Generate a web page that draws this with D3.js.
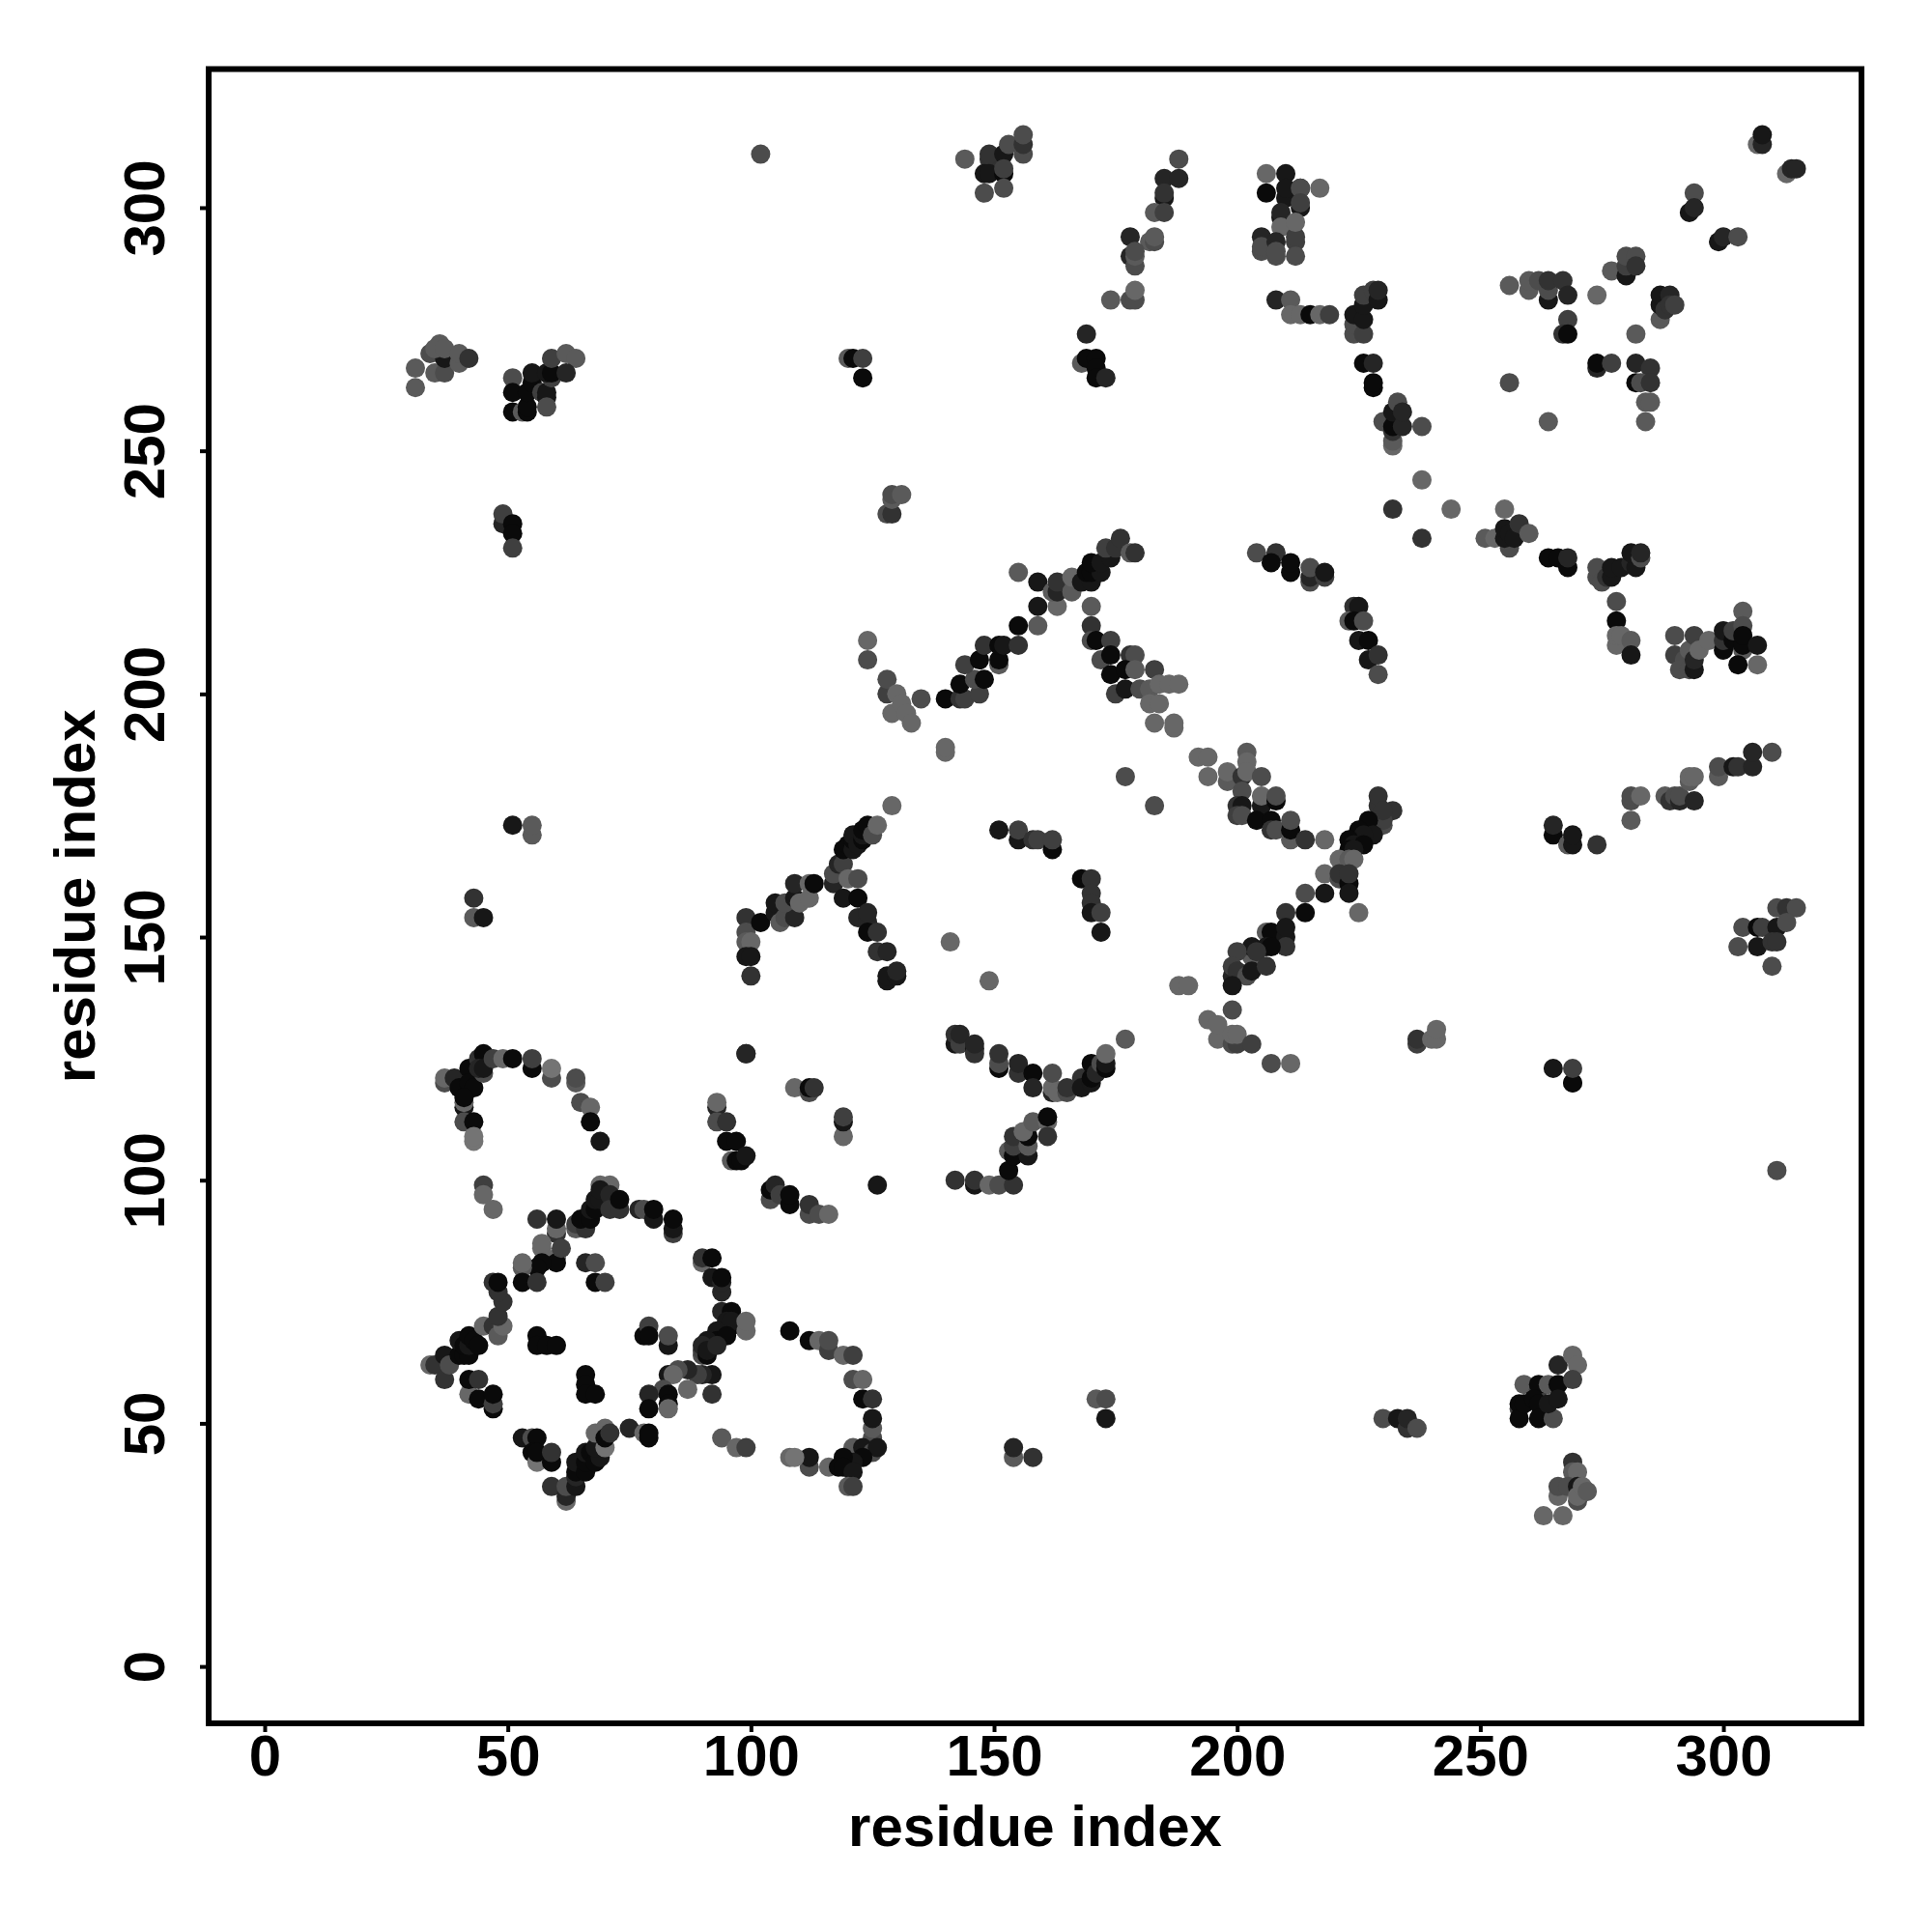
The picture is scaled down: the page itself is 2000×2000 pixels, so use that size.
<!DOCTYPE html>
<html>
<head>
<meta charset="utf-8">
<script src="https://cdn.jsdelivr.net/npm/d3@7"></script>
<style>
html,body{margin:0;padding:0;background:#fff}
svg{display:block}
text{font-family:"Liberation Sans",Arial,sans-serif;font-weight:bold;fill:#000}
</style>
</head>
<body>
<script>
// each contact: [residue index x, residue index y, shade level 0 (black) .. 8 (lightest)]
const arcUpperLeft = [[37,120,5],[37,121,7],[39,121,2],[40,119,0],[42,123,0],[42,120,0],[43,119,0],[41,115,1],[41,116,7],[41,117,0],[44,125,3],[45,126,0],[45,122,5],[44,123,2],[45,123,1],[47,125,4],[49,125,7],[51,125,0],[55,123,0],[55,125,4],[59,121,5],[59,123,8],[64,120,6],[64,121,5],[65,116,5],[67,115,7],[67,112,0],[69,108,1],[41,112,5],[43,112,0],[43,108,8],[43,109,8],[45,99,4],[45,97,7],[47,94,7]];
const ringTop = [[56,92,3],[60,89,3],[60,90,7],[60,92,1],[57,86,7],[57,87,7],[60,84,7],[60,83,0],[61,86,4],[57,83,0],[56,82,0],[53,82,6],[53,83,7],[53,79,0],[56,79,3],[64,90,6],[64,91,4],[66,90,3],[65,92,0],[67,92,0],[67,94,1],[68,94,0],[68,96,1],[69,96,1],[69,99,7],[71,99,7],[69,98,1],[71,97,2],[71,94,3],[73,94,3],[73,96,0],[77,94,2],[78,94,5],[80,92,1],[80,94,0],[84,89,4],[84,90,1],[84,92,0]];
const ringRight = [[90,83,7],[90,84,3],[92,84,0],[92,80,1],[94,77,2],[94,79,2],[94,80,0],[94,73,2],[96,73,0],[95,71,1],[96,70,0],[96,71,1],[99,69,7],[99,71,7],[93,69,1],[93,67,0],[91,67,1],[95,68,0],[90,64,5],[90,65,4],[90,66,2],[91,64,0],[91,65,1],[93,66,2]];
const ringLowerRight = [[92,60,1],[90,60,2],[89,60,4],[87,61,2],[85,61,5],[83,60,1],[84,60,7],[87,57,7],[82,57,5],[83,56,0],[79,56,2],[92,56,3],[79,53,0],[83,54,0],[83,53,7]];
const ringBottom = [[53,47,1],[55,47,5],[56,47,0],[55,44,0],[56,42,8],[56,44,0],[59,42,0],[59,44,3],[59,37,3],[62,34,7],[62,35,2],[62,37,5],[64,37,1],[64,39,2],[64,40,0],[64,42,1],[66,40,0],[66,42,0],[66,44,1],[67,44,0],[68,42,0],[69,43,1],[68,45,1],[70,45,8],[68,48,7],[70,49,7],[70,47,0],[71,48,3],[75,49,2],[78,48,7],[79,47,0],[79,48,0]];
const ringLeft = [[34,62,7],[35,62,3],[37,59,3],[37,64,1],[38,62,5],[40,64,0],[41,64,0],[42,64,0],[40,67,1],[41,66,0],[42,66,1],[42,68,0],[43,67,0],[44,66,0],[45,70,7],[47,70,3],[48,68,6],[49,70,7],[48,72,3],[49,75,3],[48,77,3],[47,79,3],[48,79,0],[42,56,7],[42,59,0],[44,59,3],[44,55,0],[47,53,0],[47,54,4],[47,56,0]];
const ringInside = [[56,68,0],[56,66,0],[58,66,0],[60,66,0],[66,60,0],[66,58,0],[66,56,0],[68,56,0],[78,68,0],[79,70,4],[79,68,0],[83,66,1],[83,68,5],[66,83,2],[68,83,5],[68,79,0],[70,79,4]];
const arcLowerRight = [[108,69,0],[112,67,0],[114,67,7],[116,65,4],[116,67,5],[119,64,7],[121,64,4],[121,59,5],[123,59,7],[123,55,0],[125,55,3],[125,47,5],[125,49,6],[125,51,1],[121,45,6],[123,45,1],[125,44,5],[126,45,1],[123,43,0],[121,42,1],[119,43,0],[116,41,7],[118,41,0],[119,41,0],[121,40,1],[120,37,6],[121,37,4],[112,41,5],[112,43,1],[108,43,7],[109,43,8],[94,47,6],[97,45,7],[99,45,4]];
const arcMiddle = [[99,126,2],[109,119,7],[112,118,5],[112,119,0],[113,119,3],[119,109,7],[119,112,1],[119,113,4],[93,115,2],[93,116,7],[93,112,5],[95,112,3],[95,108,0],[97,108,0],[96,104,6],[97,104,0],[98,104,0],[99,105,1],[104,96,5],[104,98,0],[105,99,2],[106,97,4],[108,95,0],[108,97,0],[112,93,5],[112,95,3],[114,93,5],[116,93,7],[126,99,1]];
const branchLeft150 = [[99,154,3],[99,151,5],[99,149,6],[100,149,7],[99,146,1],[100,146,1],[100,142,3],[102,153,0],[105,155,1],[105,157,1],[106,153,6],[107,154,5],[109,154,2],[107,157,5],[109,158,1],[110,157,7],[112,158,7],[109,161,2],[112,161,7],[113,161,0]];
const branchRight150 = [[117,161,2],[117,163,5],[118,165,2],[119,165,4],[119,168,0],[120,169,0],[121,168,1],[121,170,0],[121,171,1],[122,169,1],[123,170,0],[123,171,1],[123,172,0],[124,173,0],[125,171,5],[126,173,7],[119,158,1],[120,162,7],[122,158,0],[122,162,5],[122,154,2],[124,153,2],[124,155,2],[124,151,0],[126,151,3],[126,147,3],[128,147,2],[128,141,1],[128,142,1],[130,142,1],[130,143,2]];
const arc170 = [[129,177,7],[151,172,1],[155,170,1],[155,172,4],[158,170,3],[159,170,4],[162,168,0],[162,170,4],[168,162,0],[170,162,3],[170,159,3],[170,157,3],[170,155,1],[172,155,4],[172,151,1],[141,149,7],[149,141,7],[177,183,5],[183,177,5],[188,140,7],[190,140,7],[99,126,2]];
const yShape = [[142,100,3],[146,99,1],[146,100,3],[149,99,7],[151,99,5],[154,99,3],[153,102,0],[153,106,6],[154,105,0],[157,105,1],[154,107,4],[154,109,3],[157,107,6],[157,109,0],[156,110,7],[158,112,6],[161,112,7],[161,113,0],[161,109,3],[142,128,1],[142,130,3],[143,128,4],[143,130,2],[146,127,1],[146,126,3],[146,128,2],[151,123,0],[151,124,5],[151,126,3],[155,122,3],[155,124,2],[158,122,0],[158,119,2],[162,118,2],[162,119,7],[162,122,5],[163,118,7],[165,118,5],[165,119,3],[168,121,3],[168,119,1],[170,120,1],[170,121,0],[170,124,0],[171,122,2],[172,124,5],[173,123,0],[173,124,1],[173,126,7],[177,129,6]];
const arm200 = [[124,211,7],[124,207,5],[128,200,4],[128,203,5],[129,196,7],[130,200,7],[131,198,7],[132,196,7],[133,194,7],[135,199,5],[140,199,0],[140,188,7],[140,189,7],[143,199,3],[144,199,4],[147,200,4],[143,202,0],[146,203,5],[148,203,0],[144,206,4],[147,207,0],[151,206,6],[151,207,0],[148,210,3],[151,210,0],[152,210,1],[155,210,3],[155,214,0],[159,214,6],[159,218,1],[163,218,7],[159,223,1],[162,221,6],[163,221,2],[163,223,3],[166,221,6],[166,224,7],[155,225,6],[168,223,1],[170,223,1],[169,225,0],[170,225,0],[172,225,1],[170,227,0],[172,227,1],[174,228,1],[173,230,4],[175,230,3],[176,232,3],[178,229,6],[179,229,3]];
const arm205 = [[170,218,6],[170,214,3],[170,211,5],[171,211,0],[172,207,5],[174,211,4],[174,208,0],[174,204,0],[175,200,4],[177,201,1],[178,208,3],[179,208,5],[177,205,0],[179,205,6],[180,201,5],[182,201,6],[183,205,4],[182,198,7],[184,198,7],[184,202,7],[186,202,7],[188,202,7],[183,194,7],[187,193,7],[187,194,7]];
const arm180 = [[192,187,7],[194,187,7],[194,183,7],[198,182,6],[198,184,7],[202,188,6],[202,186,7],[201,183,3],[202,184,7],[205,183,5],[201,180,5],[200,177,3],[201,177,1],[200,175,4],[201,175,5],[205,177,1],[205,179,7],[208,178,0],[208,179,5],[204,174,0],[207,174,0],[207,172,3],[208,172,5],[211,170,6],[211,172,0],[211,174,5],[214,170,3],[218,170,7]];
const crossRight = [[229,177,3],[229,179,3],[232,176,3],[230,173,5],[230,174,4],[230,176,3],[227,174,0],[228,171,1],[225,172,0],[226,171,1],[223,170,0],[224,169,1],[226,169,0],[223,168,0],[224,168,1],[221,166,7],[223,166,6],[224,166,7],[218,163,7],[221,162,5],[221,163,3],[223,161,0],[223,163,3],[214,159,5],[218,159,1],[223,159,1],[225,155,7],[210,155,3],[214,155,0],[206,151,6],[207,151,0],[210,150,1],[210,152,1],[210,148,3],[206,148,1],[207,148,0],[203,146,6],[203,148,1],[204,147,3],[200,147,4],[199,142,2],[199,144,4],[200,143,3],[202,142,5],[203,143,1],[206,144,3],[199,140,1]];
const patch130 = [[199,135,5],[194,133,7],[196,129,7],[196,132,7],[199,128,5],[200,128,4],[199,130,7],[200,130,7],[203,128,4],[207,124,5],[211,124,7],[237,128,4],[237,129,3],[240,129,7],[241,129,7],[241,131,7],[265,123,1],[269,120,6],[269,120,0],[269,123,4]];
const strip180 = [[265,171,0],[265,173,2],[268,169,6],[269,169,1],[269,171,1],[274,169,3],[281,178,5],[281,179,5],[283,179,7],[281,174,6],[288,179,6],[289,178,3],[290,179,5],[291,178,2],[291,179,5],[294,178,2],[293,182,6],[293,183,7],[294,183,7],[299,183,6],[299,185,5],[302,185,1],[303,185,3],[306,185,2],[306,188,2],[310,188,5]];
const patch150 = [[304,152,5],[307,152,0],[308,152,4],[311,156,5],[313,156,3],[315,156,5],[311,152,1],[313,153,5],[303,148,5],[307,148,1],[310,149,3],[311,149,3],[310,144,5],[311,102,5]];
const patch300 = [[206,307,7],[210,307,1],[206,303,0],[210,302,1],[210,304,1],[213,304,1],[213,304,5],[217,304,7],[209,298,1],[209,299,2],[213,300,1],[213,301,4],[209,296,7],[212,293,4],[212,294,4],[212,297,7],[205,294,2],[205,291,5],[205,292,5],[208,293,2],[208,290,5],[208,291,5],[212,290,5]];
const strip280 = [[208,281,2],[211,281,6],[211,278,7],[213,278,7],[215,278,0],[217,278,7],[219,278,4],[224,274,5],[224,276,5],[224,278,1],[226,274,4],[226,277,1],[226,280,1],[226,282,4],[228,283,4],[229,281,1],[229,283,2],[226,268,0],[228,263,0],[228,264,0],[228,268,2]];
const patch255 = [[232,251,7],[232,252,6],[230,256,5],[232,254,3],[232,255,0],[232,258,1],[233,260,5],[234,255,2],[234,258,2],[238,255,5],[238,244,7],[232,238,3],[244,238,7],[238,232,3]];
const strip230 = [[251,232,6],[253,232,7],[255,238,7],[256,230,5],[255,232,1],[255,234,1],[256,233,1],[257,232,1],[258,235,3],[260,233,6],[264,228,0],[266,228,0],[268,226,0],[268,228,2],[274,224,5],[274,226,5],[275,223,5],[276,224,3],[277,224,1],[277,226,1],[279,226,1],[281,227,2],[282,226,1],[281,229,1],[283,228,5],[283,229,2],[278,219,5],[278,215,0],[278,210,7],[278,212,7],[279,212,7],[281,211,6],[281,208,1]];
const patch210 = [[290,212,5],[290,208,4],[292,207,5],[291,205,5],[293,205,5],[293,209,6],[294,205,1],[294,207,2],[294,212,4],[295,209,7],[297,211,7],[300,209,0],[300,211,3],[300,213,1],[302,211,0],[302,213,4],[304,217,6],[304,214,5],[304,209,6],[304,210,0],[304,212,0],[303,206,0],[307,210,1],[307,206,7]];
const cornerTop = [[307,313,7],[308,313,2],[308,315,1],[313,307,7],[314,308,2],[315,308,2],[294,303,5],[293,299,1],[294,300,2],[299,293,1],[300,294,2],[303,294,5]];
const patch285 = [[277,287,6],[280,286,1],[280,288,4],[280,290,5],[282,290,5],[282,288,3],[256,284,6],[260,283,6],[260,285,6],[262,285,5],[264,281,1],[264,283,5],[264,285,3],[267,285,3],[268,282,2],[274,282,7],[268,277,4],[267,274,3],[268,274,0],[287,277,6],[282,274,6],[287,280,1],[287,282,1],[289,282,2],[288,279,3],[289,280,3],[290,280,4]];
const patch265 = [[274,267,2],[274,268,0],[277,268,4],[282,268,2],[285,267,3],[282,264,0],[283,264,5],[285,264,3],[284,256,6],[284,260,6],[285,260,6],[256,264,5],[264,256,6]];
const strip225 = [[204,229,5],[208,229,3],[207,227,0],[211,225,0],[211,227,0],[215,223,5],[215,224,2],[215,226,5],[218,224,4],[218,225,1],[224,218,3],[225,218,1],[223,215,6],[224,215,0],[226,215,5],[225,211,1],[227,211,0],[227,207,1],[229,208,3],[229,204,5]];
const patchBottom = [[230,51,5],[233,51,1],[235,49,3],[235,51,2],[237,49,5],[259,58,6],[262,57,4],[262,58,0],[264,58,6],[266,62,2],[266,58,0],[269,64,7],[270,62,7],[269,59,4],[258,53,4],[258,54,0],[258,51,0],[259,54,0],[261,55,0],[262,54,0],[262,51,0],[265,51,5],[264,54,1],[266,55,1],[269,42,3],[269,40,6],[270,40,7],[266,35,7],[266,37,5],[268,37,5],[270,37,1],[270,34,5],[270,35,7],[271,37,7],[272,36,6],[263,31,7],[267,31,7]];
const patchTop = [[102,311,5],[144,310,6],[149,310,3],[149,311,3],[148,307,1],[149,307,1],[152,311,1],[153,313,5],[156,311,5],[156,313,3],[156,315,5],[152,307,0],[152,308,4],[148,303,5],[152,304,5]];
const stripTop = [[188,310,5],[185,306,2],[188,306,2],[185,302,1],[185,303,3],[183,299,6],[185,299,4],[178,294,2],[182,293,6],[183,293,5],[183,294,6],[178,290,2],[179,288,5],[179,290,6],[179,291,5],[178,281,5],[179,281,5],[179,283,7],[174,281,6],[169,274,2],[168,268,6],[169,269,0],[171,269,0],[171,267,0],[171,265,0],[173,265,2],[120,269,6],[121,269,0],[123,269,4],[123,265,0]];
const patchLeft = [[31,267,6],[31,263,6],[34,270,5],[35,266,6],[37,266,5],[36,270,5],[37,269,1],[36,272,6],[35,271,6],[37,271,6],[40,268,6],[40,270,6],[42,269,3],[51,265,5],[51,262,0],[51,258,0],[53,258,6],[54,258,0],[54,259,0],[54,262,0],[55,264,0],[55,266,1],[57,262,4],[58,261,1],[58,262,1],[59,265,4],[58,266,1],[59,266,0],[59,269,4],[58,259,5],[62,270,6],[64,269,6],[62,266,2],[49,235,2],[49,237,4],[51,235,0],[51,233,0],[51,230,4]];
const scattered = [[51,173,1],[55,171,6],[55,173,6],[43,158,3],[43,154,6],[45,154,1],[171,55,6],[173,55,5],[173,51,1],[154,43,6],[154,45,2],[158,43,3],[128,237,5],[129,237,3],[129,240,6],[129,241,5],[131,241,6]];

const xTicks = [0, 50, 100, 150, 200, 250, 300];
const yTicks = [0, 50, 100, 150, 200, 250, 300];
const axisTitle = "residue index";

const contacts = [].concat(arcUpperLeft, ringTop, ringRight, ringLowerRight, ringBottom, ringLeft, ringInside,
  arcLowerRight, arcMiddle, branchLeft150, branchRight150, arc170, yShape, arm200, arm205, arm180, crossRight,
  patch130, strip180, patch150, patch300, strip280, patch255, strip230, patch210, cornerTop, patch285, patch265,
  strip225, patchBottom, patchTop, stripTop, patchLeft, scattered);

const W = 2000, H = 2000;
const frame = {left: 216, right: 1927, top: 71.5, bottom: 1784};
const x = d3.scaleLinear().domain([-11.52, 328.4]).range([frame.left, frame.right]);
const y = d3.scaleLinear().domain([-11.7, 328.5]).range([frame.bottom, frame.top]);
const shade = d3.scaleLinear().domain([0, 8]).range(["#0a0a0a", "#747474"]);

const svg = d3.select("body").append("svg").attr("width", W).attr("height", H);
svg.append("rect").attr("width", W).attr("height", H).attr("fill", "#fff");

svg.append("g").selectAll("circle").data(contacts).join("circle")
  .attr("cx", d => x(d[0])).attr("cy", d => y(d[1])).attr("r", 10)
  .attr("fill", d => shade(d[2]));

const gx = svg.append("g").attr("transform", `translate(0,${frame.bottom})`)
  .call(d3.axisBottom(x).tickValues(xTicks).tickSize(9).tickPadding(0));
const gy = svg.append("g").attr("transform", `translate(${frame.left},0)`)
  .call(d3.axisLeft(y).tickValues(yTicks).tickSize(9).tickPadding(0));
gx.select(".domain").remove();
gy.select(".domain").remove();
svg.selectAll(".tick line").attr("stroke", "#000").attr("stroke-width", 4);
gx.selectAll("text").attr("y", 54).attr("dy", 0).style("font-size", "60px").style("font-family", '"Liberation Sans"').style("font-weight", "bold").attr("fill", "#000");
gy.selectAll("text").attr("x", 0).attr("dy", 0).attr("text-anchor", "middle")
  .attr("transform", "translate(-46,0) rotate(-90)").attr("y", 0)
  .style("font-size", "60px").style("font-family", '"Liberation Sans"').style("font-weight", "bold").attr("fill", "#000");

svg.append("rect").attr("x", frame.left).attr("y", frame.top)
  .attr("width", frame.right - frame.left).attr("height", frame.bottom - frame.top)
  .attr("fill", "none").attr("stroke", "#000").attr("stroke-width", 6);

svg.append("text").attr("x", (frame.left + frame.right) / 2).attr("y", 1911)
  .attr("text-anchor", "middle").style("font-size", "60px").text(axisTitle);
svg.append("text").attr("transform", `translate(98,${(frame.top + frame.bottom) / 2}) rotate(-90)`)
  .attr("text-anchor", "middle").style("font-size", "60px").text(axisTitle);
</script>
</body>
</html>
